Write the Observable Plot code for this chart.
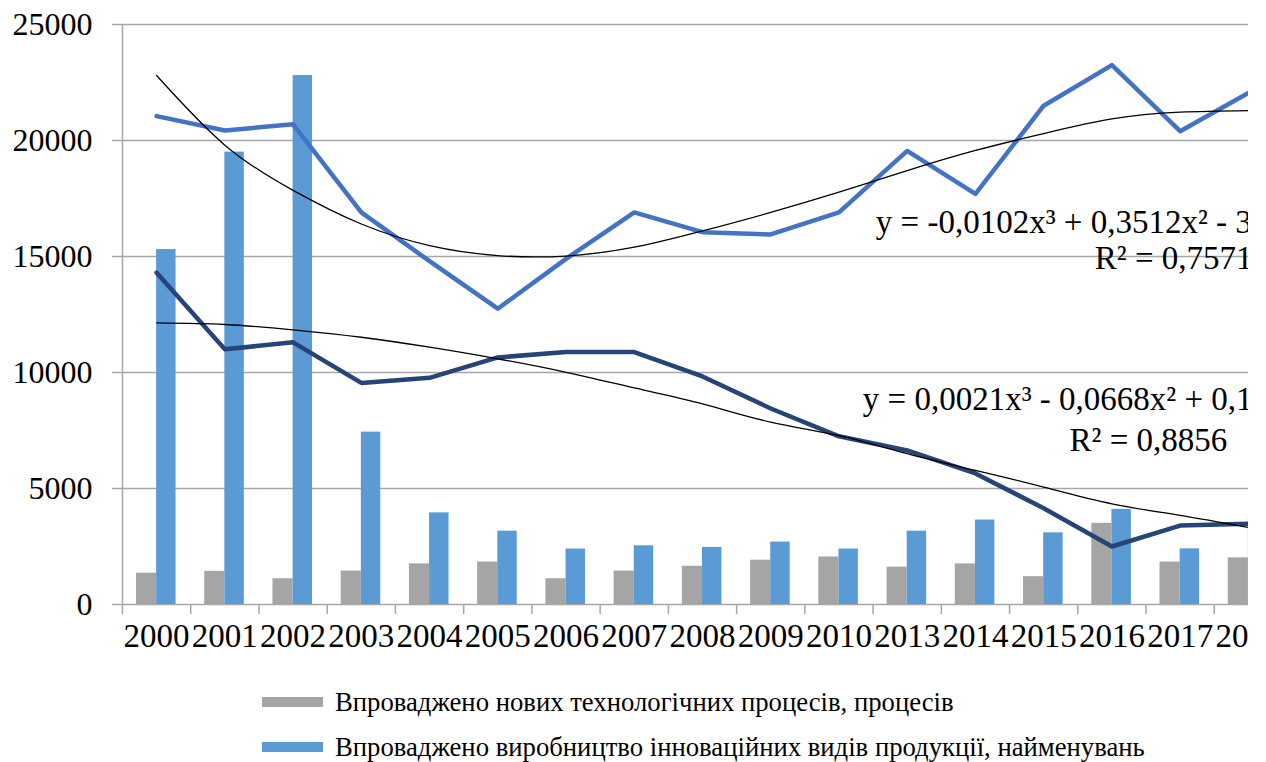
<!DOCTYPE html>
<html>
<head>
<meta charset="utf-8">
<script src="https://cdn.jsdelivr.net/npm/d3@7"></script>
<script src="https://cdn.jsdelivr.net/npm/@observablehq/plot@0.6"></script>
<style>
  html, body { margin: 0; padding: 0; background: #fff; overflow: hidden; }
  #chart { position: absolute; left: 0; top: 0; width: 1248px; height: 664px; overflow: hidden; }
  #chart svg { max-width: none !important; width: 1300px; height: 664px; }
  #legend { position: absolute; left: 262px; top: 690px; font-family: "Liberation Serif", serif; font-size: 26.7px; color: #000; }
  .row { display: flex; align-items: center; height: 24px; margin-bottom: 21px; white-space: nowrap; }
  .sw { width: 61px; height: 10px; margin-right: 12px; flex: none; }
</style>
</head>
<body>
<div id="chart"></div>
<div id="legend"></div>
<script>
// ---- data ----
const years = ["2000","2001","2002","2003","2004","2005","2006","2007","2008","2009","2010","2013","2014","2015","2016","2017","2018"];
const processes = [1350, 1430, 1110, 1440, 1750, 1830, 1110, 1440, 1650, 1910, 2050, 1610, 1750, 1200, 3500, 1830, 2010];
const products = [15300, 19500, 22800, 7430, 3950, 3160, 2390, 2530, 2460, 2690, 2390, 3160, 3640, 3090, 4100, 2400, 3770];
const lineUpper = [21050, 20430, 20700, 16900, 14800, 12750, 14900, 16900, 16050, 15950, 16900, 19550, 17700, 21500, 23250, 20400, 22050];
const lineLower = [14300, 11000, 11300, 9550, 9770, 10650, 10880, 10880, 9830, 8450, 7250, 6640, 5650, 4150, 2500, 3400, 3480];
const trendUpper = [22800, 19800, 17850, 16400, 15470, 15040, 15020, 15400, 16100, 16900, 17770, 18700, 19570, 20300, 20930, 21220, 21290];
const trendLower = [12140, 12070, 11840, 11520, 11090, 10590, 10010, 9340, 8650, 7860, 7280, 6500, 5780, 5060, 4340, 3840, 3320];
const yTicks = [0, 5000, 10000, 15000, 20000, 25000];
const seriesNames = [
  "Впроваджено нових технологічних процесів, процесів",
  "Впроваджено виробництво інноваційних видів продукції, найменувань"
];
const annotations = [
  {text: "y = -0,0102x³ + 0,3512x² - 3,", x: 11.04, y: 16480},
  {text: "R² = 0,7571", x: 14.25, y: 14910},
  {text: "y = 0,0021x³ - 0,0668x² + 0,1", x: 10.85, y: 8860},
  {text: "R² = 0,8856", x: 13.88, y: 7070}
];

// ---- build ----
const idx = years.map((_, i) => i);
const toRows = arr => arr.map((v, i) => ({i, v}));
const grid = "#a6a6a6";
const font = "Liberation Serif";

const chart = Plot.plot({
  width: 1300,
  height: 664,
  marginLeft: 122,
  marginRight: 18,
  marginTop: 24,
  marginBottom: 60,
  style: {fontFamily: font, fontSize: "32px", color: "#000", background: "#fff", maxWidth: "none"},
  x: {domain: [0, years.length], axis: null},
  y: {domain: [0, 25000], axis: null},
  marks: [
    Plot.ruleY(yTicks, {stroke: grid, strokeWidth: 1.5}),
    Plot.ruleX([0], {stroke: grid, strokeWidth: 1.5}),
    Plot.axisY({ticks: yTicks, tickSize: 10, tickPadding: 20, tickFormat: d3.format("d"), label: null,
                stroke: grid, strokeWidth: 1.5, fill: "#000", fontSize: 32, fontFamily: font, strokeOpacity: 1}),
    Plot.axisX({ticks: d3.range(0, years.length + 1), tickSize: 10, tickFormat: () => "", label: null,
                stroke: grid, strokeWidth: 1.5, strokeOpacity: 1}),
    Plot.axisX({ticks: idx.map(i => i + 0.5), tickSize: 0, tickPadding: 19, label: null,
                tickFormat: t => years[Math.floor(t)], fill: "#000", fontSize: 33, fontFamily: font}),
    Plot.rectY(toRows(processes), {x1: d => d.i + 0.205, x2: d => d.i + 0.5, y: "v", fill: "#A5A5A5"}),
    Plot.rectY(toRows(products), {x1: d => d.i + 0.5, x2: d => d.i + 0.785, y: "v", fill: "#5B9BD5"}),
    Plot.line(toRows(lineUpper), {x: d => d.i + 0.5, y: "v", stroke: "#4472C4", strokeWidth: 4.5, strokeLinejoin: "round", strokeLinecap: "round"}),
    Plot.line(toRows(lineLower), {x: d => d.i + 0.5, y: "v", stroke: "#264478", strokeWidth: 4.5, strokeLinejoin: "round", strokeLinecap: "round"}),
    Plot.line(toRows(trendUpper), {x: d => d.i + 0.5, y: "v", curve: "natural", stroke: "#000", strokeWidth: 1.3}),
    Plot.line(toRows(trendLower), {x: d => d.i + 0.5, y: "v", curve: "natural", stroke: "#000", strokeWidth: 1.3}),
    Plot.text(annotations, {x: "x", y: "y", text: "text", textAnchor: "start", fill: "#000", fontSize: 33, fontFamily: font})
  ]
});
document.getElementById("chart").appendChild(chart);

const legend = document.getElementById("legend");
const legendColors = ["#A5A5A5", "#5B9BD5"];
seriesNames.forEach((name, k) => {
  const row = document.createElement("div");
  row.className = "row";
  const sw = document.createElement("span");
  sw.className = "sw";
  sw.style.background = legendColors[k];
  const label = document.createElement("span");
  label.textContent = name;
  row.appendChild(sw);
  row.appendChild(label);
  legend.appendChild(row);
});
</script>
</body>
</html>
